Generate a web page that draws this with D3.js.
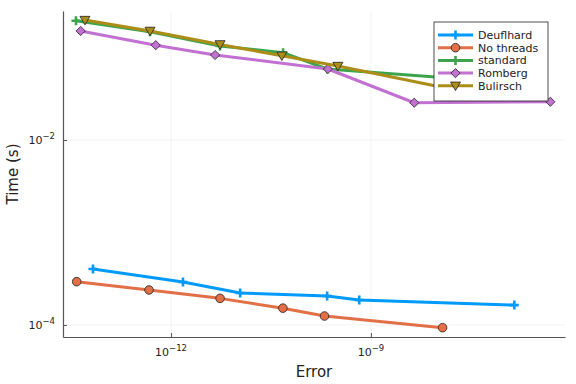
<!DOCTYPE html>
<html><head><meta charset="utf-8">
<script src="https://cdn.jsdelivr.net/npm/d3@7"></script>
<style>body{margin:0;background:#fff}svg{display:block}text{font-family:"DejaVu Sans",sans-serif}</style>
</head><body>
<svg id="c" width="576" height="384"></svg>
<script>
const seriesNames = ["Deuflhard","No threads","standard","Romberg","Bulirsch"];
const deuflhardErr  = [6.73e-14, 1.51e-12, 1.09e-11, 2.2e-10, 6.67e-10, 1.42e-7];
const deuflhardTime = [4.03e-4, 2.92e-4, 2.22e-4, 2.06e-4, 1.86e-4, 1.64e-4];
const noThreadsErr  = [3.83e-14, 4.67e-13, 5.44e-12, 4.77e-11, 2.01e-10, 1.19e-8];
const noThreadsTime = [2.94e-4, 2.39e-4, 1.94e-4, 1.52e-4, 1.25e-4, 9.35e-5];
const standardErr   = [3.74e-14, 4.84e-13, 5.44e-12, 4.8e-11, 2.2e-10, 1.75e-7];
const standardTime  = [0.195, 0.148, 0.104, 0.088, 0.0586, 0.0412];
const rombergErr    = [4.4e-14, 5.89e-13, 4.58e-12, 2.26e-10, 4.47e-9, 4.93e-7];
const rombergTime   = [0.151, 0.106, 0.083, 0.0586, 0.0253, 0.0259];
const bulirschErr   = [5.1e-14, 4.84e-13, 5.44e-12, 4.6e-11, 3.19e-10, 3.1e-8];
const bulirschTime  = [0.198, 0.151, 0.108, 0.0815, 0.063, 0.0322];
const xTickValues = [1e-12, 1e-9];
const xTickExps = ["−12","−9"];
const yTickValues = [1e-4, 1e-2];
const yTickExps = ["−4","−2"];

const colors = ["#009AFA","#E26F46","#3DA44D","#C271D2","#AC8D18"];
const markers = ["plus","circle","plus","diamond","triangleDown"];
const series = [
  [deuflhardErr, deuflhardTime],[noThreadsErr, noThreadsTime],[standardErr, standardTime],
  [rombergErr, rombergTime],[bulirschErr, bulirschTime]
].map((s,i)=>({name:seriesNames[i], color:colors[i], marker:markers[i],
  pts:s[0].map((e,j)=>({x:e,y:s[1][j]}))}));

const L=63,R=565,T=11,B=337;
const x = d3.scaleLog().domain([Math.pow(10,-13.622), Math.pow(10,-6.087)]).range([L,R]);
const y = d3.scaleLog().domain([Math.pow(10,-4.13), Math.pow(10,-0.605)]).range([B,T]);

const svg = d3.select("#c");
const g = svg.append("g");
// grid
g.selectAll(".gx").data(xTickValues).enter().append("line")
 .attr("x1",d=>x(d)).attr("x2",d=>x(d)).attr("y1",T).attr("y2",B)
 .attr("stroke","#000").attr("stroke-opacity",0.1).attr("stroke-width",0.5);
g.selectAll(".gy").data(yTickValues).enter().append("line")
 .attr("y1",d=>y(d)).attr("y2",d=>y(d)).attr("x1",L).attr("x2",R)
 .attr("stroke","#000").attr("stroke-opacity",0.1).attr("stroke-width",0.5);
// axes
const xAxis = d3.axisBottom(x).tickValues(xTickValues).tickSizeInner(-4).tickSizeOuter(0).tickFormat("");
const yAxis = d3.axisLeft(y).tickValues(yTickValues).tickSizeInner(-4).tickSizeOuter(0).tickFormat("");
const gx = g.append("g").attr("transform",`translate(0,${B})`).call(xAxis);
const gy = g.append("g").attr("transform",`translate(${L},0)`).call(yAxis);
[gx,gy].forEach(a=>{a.select(".domain").attr("stroke","#555").attr("stroke-width",1.2);
  a.selectAll(".tick line").attr("stroke","#555").attr("stroke-width",1);});
// tick labels
xTickValues.forEach((v,i)=>{
  const t = g.append("text").attr("x",x(v)).attr("y",B+19).attr("text-anchor","middle").attr("font-size",11).attr("fill","#222");
  t.append("tspan").text("10");
  t.append("tspan").attr("dy",-5).attr("font-size",8.5).text(xTickExps[i]);
});
yTickValues.forEach((v,i)=>{
  const t = g.append("text").attr("x",L-8).attr("y",y(v)+4).attr("text-anchor","end").attr("font-size",11).attr("fill","#222");
  t.append("tspan").text("10");
  t.append("tspan").attr("dy",-5).attr("font-size",8.5).text(yTickExps[i]);
});
g.append("text").attr("x",(L+R)/2).attr("y",377).attr("text-anchor","middle").attr("font-size",15).attr("fill","#222").text("Error");
g.append("text").attr("transform",`translate(18,${(T+B)/2}) rotate(-90)`).attr("text-anchor","middle").attr("font-size",15).attr("fill","#222").text("Time (s)");

function drawMarker(sel, type, color, cx, cy){
  if(type==="plus"){
    sel.append("path").attr("d",`M${cx-4.5},${cy}H${cx+4.5}M${cx},${cy-4.5}V${cy+4.5}`)
      .attr("stroke",color).attr("stroke-width",2.6);
  } else if(type==="circle"){
    sel.append("circle").attr("cx",cx).attr("cy",cy).attr("r",4.3).attr("fill",color).attr("stroke","#222").attr("stroke-width",0.8);
  } else if(type==="diamond"){
    const r=4.6;
    sel.append("path").attr("d",`M${cx},${cy-r}L${cx+r},${cy}L${cx},${cy+r}L${cx-r},${cy}Z`).attr("fill",color).attr("stroke","#222").attr("stroke-width",0.8);
  } else if(type==="triangleDown"){
    const r=5;
    sel.append("path").attr("d",`M${cx-r},${cy-r*0.75}L${cx+r},${cy-r*0.75}L${cx},${cy+r*0.95}Z`).attr("fill",color).attr("stroke","#222").attr("stroke-width",0.8);
  }
}
const line = d3.line().x(d=>x(d.x)).y(d=>y(d.y));
const plot = g.append("g");
series.forEach(s=>{
  plot.append("path").attr("d",line(s.pts)).attr("fill","none").attr("stroke",s.color).attr("stroke-width",3).attr("stroke-linejoin","round");
  const mg = plot.append("g");
  s.pts.forEach(p=>drawMarker(mg,s.marker,s.color,x(p.x),y(p.y)));
});
// legend
const lg = g.append("g");
const LX=434, LY=22, LW=114, LH=79;
lg.append("rect").attr("x",LX).attr("y",LY).attr("width",LW).attr("height",LH).attr("fill","#fff").attr("stroke","#222").attr("stroke-width",0.8);
series.forEach((s,i)=>{
  const yy = LY+13+i*12.7;
  lg.append("line").attr("x1",LX+4).attr("x2",LX+39).attr("y1",yy).attr("y2",yy).attr("stroke",s.color).attr("stroke-width",3);
  drawMarker(lg,s.marker,s.color,LX+21.5,yy);
  lg.append("text").attr("x",LX+44).attr("y",yy+4).attr("font-size",11).attr("fill","#222").text(s.name);
});
</script>
</body></html>
